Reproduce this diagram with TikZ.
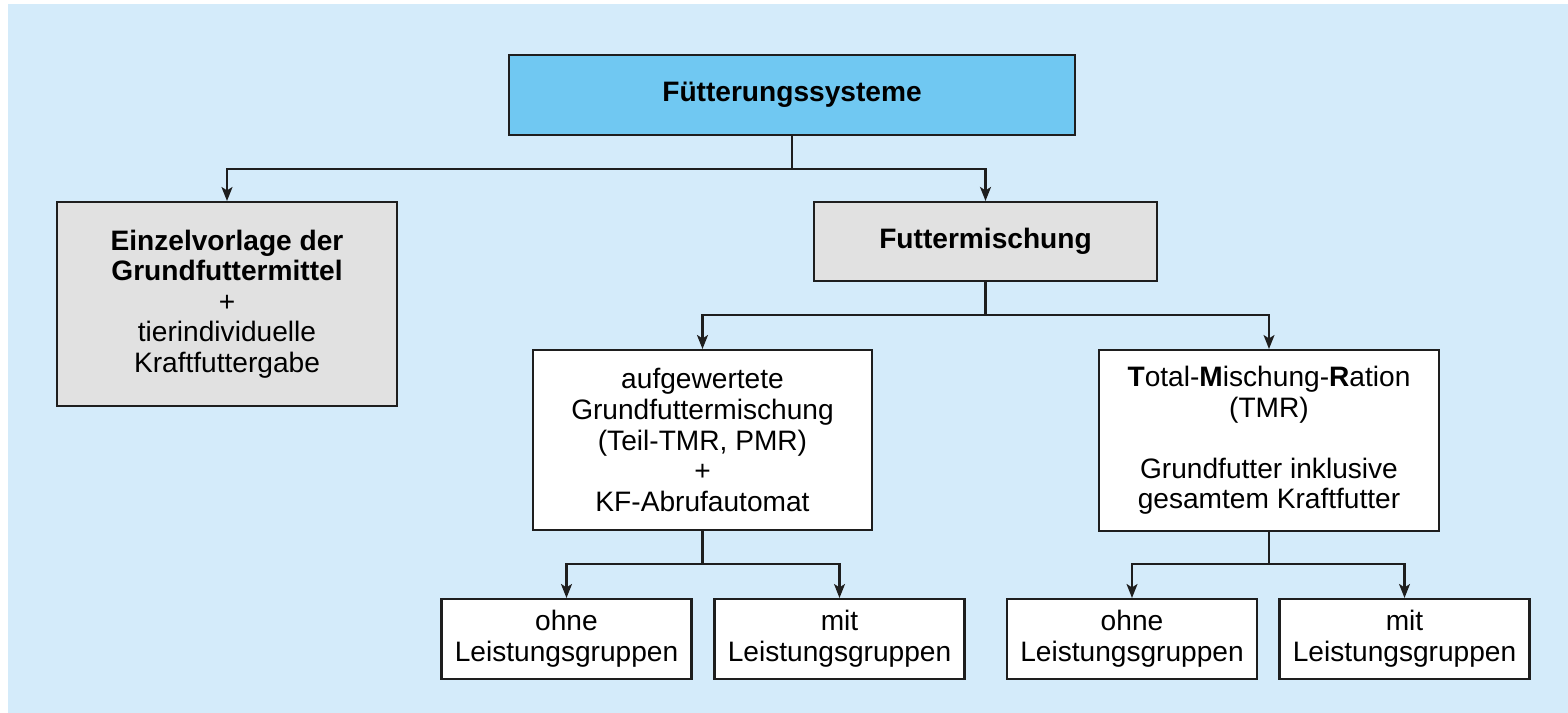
\documentclass[tikz,border=0pt]{standalone}
\usepackage{fontspec}
\setmainfont{Liberation Sans}
\usetikzlibrary{arrows.meta}
\definecolor{bgblue}{RGB}{212,235,250}
\definecolor{headblue}{RGB}{112,200,242}
\definecolor{boxgrey}{RGB}{225,225,225}
\definecolor{linegrey}{RGB}{30,30,30}
\begin{document}
\begin{tikzpicture}[x=0.02cm,y=-0.02cm,
            every node/.style={inner sep=0pt,align=center,font=\fontsize{16}{17.4}\selectfont},
            box/.style={draw=linegrey,line width=1.2pt,fill=white},
            greybox/.style={box,fill=boxgrey},
            link/.style={draw=linegrey,line width=1.2pt},
            arr/.style={link,-{Stealth[length=2.8mm,width=2.2mm,inset=0.7mm]}},
            small/.style={box,minimum width=5cm,minimum height=1.6cm}]
            \useasboundingbox (0,0) rectangle (1568,713);
            \fill [bgblue] (8,4) rectangle (1568,713);
            \node [box,fill=headblue,minimum width=11.32cm,minimum height=1.6cm] (sys) at (792,95) {\textbf{Fütterungssysteme}};
            \node [greybox,minimum width=6.8cm,minimum height=4.08cm] (einzel) at (227,304) {\textbf{Einzelvorlage der}\\\textbf{Grundfuttermittel}\\+\\tierindividuelle\\Kraftfuttergabe};
            \node [greybox,minimum width=6.86cm,minimum height=1.58cm] (misch) at (985.5,241.5) {\textbf{Futtermischung}};
            \node [box,minimum width=6.78cm,minimum height=3.6cm] (pmr) at (702.5,440) {aufgewertete\\Grundfuttermischung\\(Teil-TMR, PMR)\\+\\KF-Abrufautomat};
            \node [box,minimum width=6.8cm,minimum height=3.62cm] (tmr) at (1269,440.5) {\textbf{T}otal-\textbf{M}ischung-\textbf{R}ation\\(TMR)\\[17.4pt]Grundfutter inklusive\\gesamtem Kraftfutter};
            \node [small] (pmrohne) at (566.5,639) {ohne\\Leistungsgruppen};
            \node [small] (pmrmit) at (839.5,639) {mit\\Leistungsgruppen};
            \node [small] (tmrohne) at (1132,639) {ohne\\Leistungsgruppen};
            \node [small] (tmrmit) at (1404.5,639) {mit\\Leistungsgruppen};
            \draw [link] (sys.south) -- ++(0,33) coordinate (j1);
            \draw [arr] (j1) -| (einzel.north);
            \draw [arr] (j1) -| (misch.north);
            \draw [link] (misch.south) -- ++(0,33) coordinate (j2);
            \draw [arr] (j2) -| (pmr.north);
            \draw [arr] (j2) -| (tmr.north);
            \draw [link] (pmr.south) -- ++(0,33) coordinate (j3);
            \draw [arr] (j3) -| (pmrohne.north);
            \draw [arr] (j3) -| (pmrmit.north);
            \draw [link] (tmr.south) -- ++(0,32) coordinate (j4);
            \draw [arr] (j4) -| (tmrohne.north);
            \draw [arr] (j4) -| (tmrmit.north);
\end{tikzpicture}
\end{document}
